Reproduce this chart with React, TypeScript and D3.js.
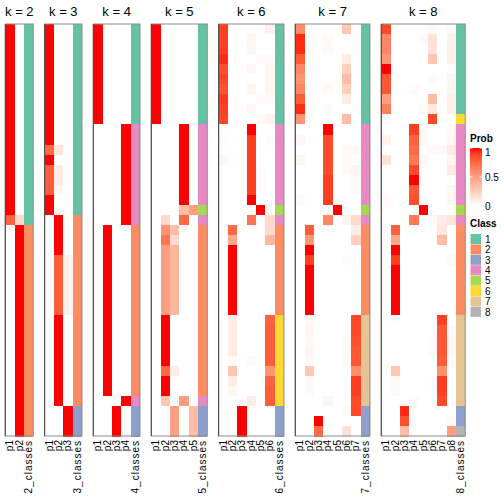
import React from "react";
import * as d3 from "d3";

// ---- data (membership probabilities per sample row, 41 samples) ----
const k2Prob = [
  [1,0],[1,0],[1,0],[1,0],[1,0],[1,0],[1,0],[1,0],[1,0],[1,0],
  [1,0],[1,0],[1,0],[1,0],[1,0],[1,0],[1,0],[1,0],[1,0],[0.78,0.2],
  [0,1],[0,1],[0,1],[0,1],[0,1],[0,1],[0,1],[0,1],[0,1],[0,1],
  [0,1],[0,1],[0,1],[0,1],[0,1],[0,1],[0,1],[0,1],[0,1],[0,1],[0,1],
];
const k2Class = [1,1,1,1,1,1,1,1,1,1,1,1,1,1,1,1,1,1,1,1,2,2,2,2,2,2,2,2,2,2,2,2,2,2,2,2,2,2,2,2,2];

const k3Prob = [
  [1,0,0],[1,0,0],[1,0,0],[1,0,0],[1,0,0],[1,0,0],[1,0,0],[1,0,0],[1,0,0],[1,0,0],
  [1,0,0],[1,0,0],[0.75,0.15,0],[1,0,0],[0.8,0.1,0],[0.8,0.1,0],[0.8,0.05,0],[1,0,0],[1,0,0],[0,1,0],
  [0,1,0],[0,1,0],[0,1,0],[0,0.8,0.07],[0,0.8,0.07],[0,0.8,0.07],[0,0.8,0.07],[0,0.8,0.07],[0,0.8,0.07],[0,1,0],
  [0,1,0],[0,1,0],[0,1,0],[0,1,0],[0,1,0],[0,1,0],[0,1,0],[0,1,0],[0,0,1],[0,0,1],[0,0,1],
];
const k3Class = [1,1,1,1,1,1,1,1,1,1,1,1,1,1,1,1,1,1,1,2,2,2,2,2,2,2,2,2,2,2,2,2,2,2,2,2,2,2,3,3,3];

const k4Prob = [
  [1,0,0,0],[1,0,0,0],[1,0,0,0],[1,0,0,0],[1,0,0,0],[1,0,0,0],[1,0,0,0],[1,0,0,0],[1,0,0,0],[1,0,0,0],
  [0,0,0,1],[0,0,0,1],[0,0,0,1],[0,0,0,1],[0,0,0,1],[0,0,0,1],[0,0,0,1],[0,0,0,1],[0,0,0,1],[0,0,0,1],
  [0,1,0,0],[0,1,0,0],[0,1,0,0],[0,1,0,0],[0,1,0,0],[0,1,0,0],[0,1,0,0],[0,1,0,0],[0,1,0,0],[0,1,0,0],
  [0,1,0,0],[0,1,0,0],[0,1,0,0],[0,1,0,0],[0,1,0,0],[0,1,0,0],[0,1,0,0],[0,0,0,1],[0,0,1,0],[0,0,1,0],[0,0,1,0],
];
const k4Class = [1,1,1,1,1,1,1,1,1,1,4,4,4,4,4,4,4,4,4,4,2,2,2,2,2,2,2,2,2,2,2,2,2,2,2,2,2,4,3,3,3];

const k5Prob = [
  [1,0,0,0,0],[1,0,0,0,0],[1,0,0,0,0],[1,0,0,0,0],[1,0,0,0,0],[1,0,0,0,0],[1,0,0,0,0],[1,0,0,0,0],[1,0,0,0,0],[1,0,0,0,0],
  [0,0,0,1,0],[0,0,0,1,0],[0,0,0,1,0],[0,0,0,1,0],[0,0,0,1,0],[0,0,0,1,0],[0,0,0,1,0],[0,0,0,1,0],[0,0,0,0.35,0.5],[0,0.2,0,0.75,0],
  [0,0.55,0.35,0,0],[0,0.7,0.2,0,0],[0,0.5,0.38,0,0],[0,0.5,0.38,0,0],[0,0.5,0.38,0,0],[0,0.5,0.38,0,0],[0,0.5,0.38,0,0],[0,0.5,0.38,0,0],[0,0.5,0.38,0,0],[0,1,0,0,0],
  [0,1,0,0,0],[0,1,0,0,0],[0,1,0,0,0],[0,1,0,0,0],[0,0.75,0.1,0,0],[0,1,0,0,0],[0,1,0,0,0],[0,0.3,0,0.5,0],[0,0,0.5,0,0.35],[0,0,0.5,0,0.35],[0,0,0.5,0,0.35],
];
const k5Class = [1,1,1,1,1,1,1,1,1,1,4,4,4,4,4,4,4,4,5,4,2,2,2,2,2,2,2,2,2,2,2,2,2,2,2,2,2,4,3,3,3];

const k6Prob = [
  [0.9,0,0,0,0,0.07],[0.9,0,0,0.05,0,0],[0.9,0,0,0.05,0,0],[0.95,0,0,0,0.03,0.03],[0.85,0,0,0.05,0,0.05],
  [0.88,0,0,0,0,0.05],[0.85,0,0,0.05,0,0.05],[0.92,0,0,0,0.03,0.03],[0.9,0,0,0.05,0,0],[0.88,0,0,0,0.03,0.07],
  [0,0,0,1,0,0],[0.03,0,0,0.9,0,0.02],[0,0,0,0.9,0.02,0],[0.05,0,0,0.9,0,0],[0,0,0,0.9,0.02,0],
  [0,0,0,0.9,0.02,0],[0,0,0,0.9,0.02,0],[0,0,0,1,0,0],[0,0,0,0.02,1,0],[0,0,0,0.7,0.02,0.2],
  [0,0.75,0,0,0,0.2],[0,0.45,0,0,0,0.38],[0,1,0,0,0,0],[0,1,0,0,0,0],[0,1,0,0,0,0],
  [0,1,0,0,0,0],[0,1,0,0,0,0],[0,1,0,0,0,0],[0,1,0,0,0,0],[0,0.1,0,0,0,0.78],
  [0,0.1,0,0,0,0.8],[0,0.1,0,0,0,0.8],[0,0.1,0,0,0,0.8],[0,0.03,0,0.03,0,0.8],[0,0.3,0,0,0,0.55],
  [0,0.1,0,0,0,0.78],[0,0.05,0,0,0,0.8],[0,0,0,0.1,0,0.8],[0,0,1,0,0,0],[0,0,1,0,0,0],[0,0,1,0,0,0],
];
const k6Class = [1,1,1,1,1,1,1,1,1,1,4,4,4,4,4,4,4,4,5,4,2,2,2,2,2,2,2,2,2,6,6,6,6,6,6,6,6,6,3,3,3];

const k7Prob = [
  [0.6,0,0,0,0,0.3,0],[0.95,0,0,0.03,0,0,0],[0.95,0,0,0.03,0,0,0],[0.8,0,0,0,0,0.1,0],[0.62,0,0,0,0,0.25,0],
  [0.55,0,0,0,0,0.35,0],[0.62,0,0,0.03,0,0.25,0],[0.8,0,0,0,0,0.1,0],[0.95,0,0,0.03,0,0,0],[0.55,0,0,0,0,0.35,0],
  [0,0,0,1,0,0,0],[0.05,0,0,0.87,0,0,0],[0,0,0,0.87,0,0.03,0.03],[0.05,0,0,0.87,0,0.03,0],[0,0,0,0.87,0,0.03,0.05],
  [0,0,0,0.9,0,0,0.03],[0,0,0,0.9,0,0,0.03],[0.03,0,0,0.9,0,0,0],[0,0,0,0,1,0,0],[0,0,0,0.62,0,0.05,0.2],
  [0,0.8,0,0,0,0,0.1],[0,0.55,0,0,0,0,0.25],[0,1,0,0,0,0,0],[0,0.9,0,0,0,0.02,0],[0,1,0,0,0,0,0],
  [0,1,0,0,0,0,0],[0,1,0,0,0,0,0],[0,1,0,0,0,0,0],[0,1,0,0,0,0,0],[0,0.03,0,0,0,0,0.87],
  [0,0.05,0,0,0,0,0.87],[0,0.03,0,0,0,0.03,0.85],[0,0.05,0,0,0,0.03,0.82],[0,0.03,0,0,0,0.03,0.82],[0,0.3,0,0,0,0,0.58],
  [0,0.03,0,0,0,0,0.9],[0,0.03,0,0,0,0,0.9],[0,0,0,0.05,0,0,0.87],[0,0,0,0,0,0.03,0.87],[0,0,1,0,0,0,0],[0,0,0.75,0,0,0.15,0],
];
const k7Class = [1,1,1,1,1,1,1,1,1,1,4,4,4,4,4,4,4,4,5,4,2,2,2,2,2,2,2,2,2,7,7,7,7,7,7,7,7,7,3,3,3];

const k8Prob = [
  [0.87,0,0,0,0,0.03,0,0.03],[0.62,0,0,0,0.02,0.15,0,0.07],[0.62,0,0,0,0,0.15,0,0.07],[0.55,0,0,0,0,0.3,0,0.07],[1,0,0,0,0,0,0,0],
  [0.82,0,0,0,0,0.03,0,0.05],[0.82,0,0,0.03,0,0,0,0.05],[0.5,0,0,0,0,0.35,0,0.07],[0.65,0,0,0,0.03,0.12,0,0.07],[0.03,0,0,0,0,0.87,0,0],
  [0,0,0,0.9,0.03,0,0,0.03],[0.07,0,0,0.78,0.03,0,0,0.05],[0,0,0,0.75,0,0.03,0.03,0.1],[0.15,0,0,0.68,0.05,0,0,0.05],[0,0,0,0.87,0,0,0,0.1],
  [0,0,0,1,0,0,0,0],[0,0,0,0.82,0,0,0,0.05],[0.03,0,0,0.85,0.02,0,0,0.05],[0,0,0,0,1,0,0,0],[0,0,0,0.68,0,0.03,0.1,0.15],
  [0,0.78,0,0,0,0,0.12,0],[0,0.45,0,0,0,0,0.35,0],[0,1,0,0,0,0,0,0],[0,0.9,0,0,0,0,0,0.03],[0,1,0,0,0,0,0,0],
  [0,1,0,0,0,0,0,0],[0,1,0,0,0,0,0,0],[0,1,0,0,0,0,0,0],[0,1,0,0,0,0,0,0],[0,0.02,0,0,0,0,0.9,0],
  [0,0,0,0,0,0,0.82,0.03],[0,0,0,0,0,0.02,0.82,0.05],[0,0,0,0,0,0.02,0.82,0.05],[0,0,0,0,0,0,0.8,0.03],[0,0.3,0,0,0,0,0.58,0.02],
  [0,0.03,0,0,0,0,0.9,0],[0,0.03,0,0,0,0,0.9,0],[0,0,0,0.03,0,0,0.87,0],[0,0,0.95,0,0,0,0,0],[0,0,0.85,0,0,0,0,0.03],[0,0,0.35,0,0,0,0,0.5],
];
const k8Class = [1,1,1,1,1,1,1,1,1,6,4,4,4,4,4,4,4,4,5,4,2,2,2,2,2,2,2,2,2,7,7,7,7,7,7,7,7,7,3,3,8];

const classColors = ["#66C2A5","#FC8D62","#8DA0CB","#E78AC3","#A6D854","#FFD92F","#E5C494","#B3B3B3"];
const classLabels = ["1","2","3","4","5","6","7","8"];
const probTicks = [1, 0.5, 0];

const panels = [
  { k: 2, prob: k2Prob, cls: k2Class },
  { k: 3, prob: k3Prob, cls: k3Class },
  { k: 4, prob: k4Prob, cls: k4Class },
  { k: 5, prob: k5Prob, cls: k5Class },
  { k: 6, prob: k6Prob, cls: k6Class },
  { k: 7, prob: k7Prob, cls: k7Class },
  { k: 8, prob: k8Prob, cls: k8Class },
];

const FONT = "'Liberation Sans', Arial, Helvetica, sans-serif";
const TOP = 24;
const BOTTOM = 436;
const COLW = 9.33;
const GAP = 11.35;
const START = 5.3;

const probColor = d3
  .scaleLinear<string>()
  .domain([0, 1])
  .range(["#ffffff", "#ff0000"])
  .interpolate(d3.interpolateLab);

export default function App() {
  const nRows = k2Prob.length;
  const y = d3.scaleBand<number>().domain(d3.range(nRows)).range([TOP, BOTTOM]);
  let x0 = START;
  const layout = panels.map((p) => {
    const cols = [...d3.range(p.k).map((j) => "p" + (j + 1)), "cls"];
    const x = d3.scaleBand<string>().domain(cols).range([x0, x0 + cols.length * COLW]);
    const res = { ...p, cols, x, x0, x1: x0 + cols.length * COLW };
    x0 = res.x1 + GAP;
    return res;
  });

  const legY = d3.scaleLinear().domain([0, 1]).range([206, 148]);
  const gradStops = d3.range(0, 1.0001, 0.1);
  const swY = d3.scaleBand<string>().domain(classLabels).range([234, 234 + 8 * 10.4]);

  return (
    <svg width={504} height={504} style={{ position: "absolute", left: 0, top: 0 }} fontFamily={FONT}>
      <defs>
        <linearGradient id="probGrad" x1="0" y1="1" x2="0" y2="0">
          {gradStops.map((t) => (
            <stop key={t} offset={t} stopColor={probColor(t)} />
          ))}
        </linearGradient>
      </defs>
      <rect x={0} y={0} width={504} height={504} fill="#ffffff" />
      {layout.map((p) => (
        <g key={p.k}>
          <g shapeRendering="crispEdges">
            {p.prob.map((row, i) =>
              row.map((v, j) => (
                <rect
                  key={i + "-" + j}
                  x={p.x("p" + (j + 1))}
                  y={y(i)}
                  width={p.x.bandwidth() + 0.5}
                  height={y.bandwidth() + 0.5}
                  fill={probColor(v)}
                />
              ))
            )}
            {p.cls.map((c, i) => (
              <rect
                key={"c" + i}
                x={p.x("cls")}
                y={y(i)}
                width={p.x.bandwidth()}
                height={y.bandwidth() + 0.5}
                fill={classColors[c - 1]}
              />
            ))}
          </g>
          <rect x={p.x0} y={TOP} width={p.x1 - p.x0} height={BOTTOM - TOP} fill="none" stroke="#8a8a8a" strokeWidth={1} />
          <line x1={p.x0} x2={p.x0} y1={TOP} y2={BOTTOM} stroke="#444" strokeWidth={1} />
          <text x={(p.x0 + p.x1) / 2} y={16} textAnchor="middle" fontSize={13} fill="#000">
            {"k = " + p.k}
          </text>
          {p.cols.map((c) => {
            const cx = (p.x(c) as number) + p.x.bandwidth() / 2;
            const label = c === "cls" ? p.k + "_classes" : c;
            return (
              <text
                key={c}
                transform={`translate(${cx},${BOTTOM + 4}) rotate(-90)`}
                textAnchor="end"
                dy="0.35em"
                fontSize={10}
                letterSpacing={c === "cls" ? 1 : 0}
                fill="#000"
              >
                {label}
              </text>
            );
          })}
        </g>
      ))}
      {/* Prob legend */}
      <text x={470} y={142} fontSize={10} fontWeight="bold" fill="#000">Prob</text>
      <rect x={470} y={148} width={12} height={58} fill="url(#probGrad)" />
      {probTicks.map((t) => (
        <g key={t}>
          <line x1={470} x2={472.5} y1={legY(t)} y2={legY(t)} stroke="#fff" strokeWidth={1} />
          <line x1={479.5} x2={482} y1={legY(t)} y2={legY(t)} stroke="#fff" strokeWidth={1} />
          <text x={485} y={t === 1 ? legY(t) + 4 : legY(t)} dy="0.35em" fontSize={10} fill="#000">{String(t)}</text>
        </g>
      ))}
      {/* Class legend */}
      <text x={470} y={227} fontSize={10} fontWeight="bold" fill="#000">Class</text>
      {classLabels.map((c, i) => (
        <g key={c}>
          <rect x={470.5} y={swY(c)} width={10.5} height={swY.bandwidth() - 0.4} fill={classColors[i]} />
          <text x={485} y={(swY(c) as number) + swY.bandwidth() / 2} dy="0.35em" fontSize={10} fill="#000">{c}</text>
        </g>
      ))}
    </svg>
  );
}
